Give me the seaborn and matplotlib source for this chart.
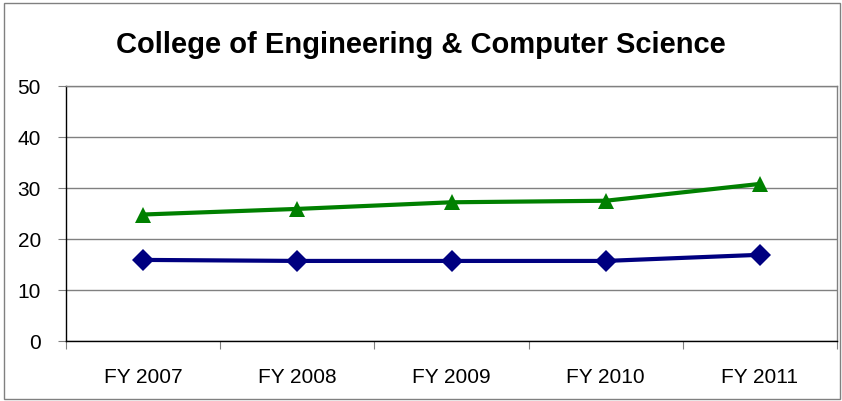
#!/usr/bin/env python3
"""College of Engineering & Computer Science trend chart"""

import matplotlib
matplotlib.use("Agg")
import matplotlib.pyplot as plt
import matplotlib.patches as mpatches
import pandas as pd
import seaborn as sns

###########################################################
# Data
###########################################################

years = ["FY 2007", "FY 2008", "FY 2009", "FY 2010", "FY 2011"]
upper_series = [24.8, 25.9, 27.2, 27.5, 30.8]
lower_series = [15.9, 15.7, 15.7, 15.7, 16.9]
y_ticks = [0, 10, 20, 30, 40, 50]

###########################################################
# Main
###########################################################


def main():
    df = pd.DataFrame(
        {
            "pos": list(range(len(years))) * 2,
            "value": upper_series + lower_series,
            "series": ["upper"] * len(years) + ["lower"] * len(years),
        }
    )

    sns.set_theme(style="white")
    plt.rcParams["font.family"] = ["Liberation Sans", "DejaVu Sans"]
    plt.rcParams["text.color"] = "black"
    plt.rcParams["xtick.color"] = "black"
    plt.rcParams["ytick.color"] = "black"

    fig = plt.figure(figsize=(8.42, 4.02), dpi=100)
    ax = fig.add_axes([66 / 842, 1 - 342 / 402, (837 - 66) / 842, (342 - 87) / 402])

    sns.lineplot(
        data=df,
        x="pos",
        y="value",
        hue="series",
        style="series",
        palette={"upper": "#008000", "lower": "#000080"},
        markers={"upper": "^", "lower": "D"},
        dashes=False,
        linewidth=3,
        markersize=11,
        markeredgewidth=0,
        legend=False,
        ax=ax,
    )

    ax.set_xlim(-0.5, len(years) - 0.5)
    ax.set_ylim(0, 50)
    ax.set_yticks(y_ticks)
    ax.set_xticks([i - 0.5 for i in range(len(years) + 1)])
    ax.set_xticklabels([])
    ax.set_xticks(range(len(years)), minor=True)
    ax.set_xticklabels(years, minor=True)
    ax.tick_params(axis="x", which="minor", length=0, pad=19, labelsize=15,
                   labelcolor="black")
    ax.tick_params(axis="x", which="major", length=6, width=0.8, color="#808080",
                   direction="out", bottom=True)
    ax.tick_params(axis="y", length=6, width=0.8, color="#808080", direction="out",
                   left=True, labelsize=15, pad=12, labelcolor="black")
    ax.set_xlabel("")
    ax.set_ylabel("")

    ax.yaxis.grid(True, color="#808080", linewidth=1)
    ax.set_axisbelow(True)
    for side in ("left", "bottom"):
        ax.spines[side].set_color("black")
        ax.spines[side].set_linewidth(1)
    for side in ("top", "right"):
        ax.spines[side].set_color("#808080")
        ax.spines[side].set_linewidth(1)

    fig.text(0.5, 1 - 45 / 402, "College of Engineering & Computer Science",
             ha="center", va="center", fontsize=21, fontweight="bold",
             color="black")

    # outer chart border
    fig.patches.append(
        mpatches.Rectangle((4 / 842, 2 / 402), 836 / 842, 396 / 402,
                           transform=fig.transFigure, fill=False,
                           edgecolor="#808080", linewidth=1)
    )

    fig.savefig("out.png", dpi=100)


if __name__ == "__main__":
    main()
